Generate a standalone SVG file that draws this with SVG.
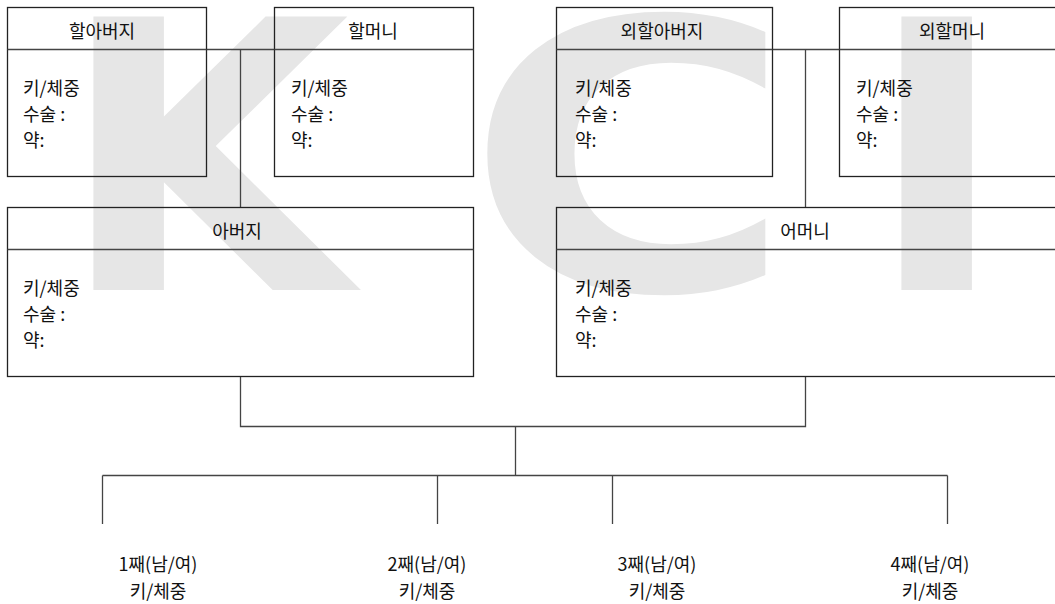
<svg xmlns="http://www.w3.org/2000/svg" width="1055" height="604" viewBox="0 0 1055 604">
<style>
.wm{font-family:"DejaVu Sans","Liberation Sans",sans-serif;font-weight:bold;font-size:375px;fill:#e6e6e6}
.box{fill:none;stroke:#222;stroke-width:1.3}
.div{stroke:#444;stroke-width:1.3}
.con{fill:none;stroke:#444;stroke-width:1.3}
.t{font-family:"Noto Sans CJK KR","Noto Sans",sans-serif;font-size:18px;fill:#111}
.h{text-anchor:middle}
.c{text-anchor:middle}
</style>
<rect width="1055" height="604" fill="#fff"/>
<g id="watermark">
<text class="wm" x="59" y="290">K</text>
<text class="wm" x="465" y="290" textLength="329" lengthAdjust="spacingAndGlyphs">C</text>
<text class="wm" x="867" y="290">I</text>
</g>
<g id="connectors">
<line class="div" x1="206.5" y1="49.5" x2="274.5" y2="49.5"/>
<line class="div" x1="772.5" y1="49.5" x2="839.5" y2="49.5"/>
<line class="con" x1="240.5" y1="49.5" x2="240.5" y2="207.5"/>
<line class="con" x1="805.5" y1="49.5" x2="805.5" y2="207.5"/>
<polyline class="con" points="240.5,376.5 240.5,426.5 805.5,426.5 805.5,376.5"/>
<line class="con" x1="515.5" y1="426.5" x2="515.5" y2="475.5"/>
<line class="con" x1="102.5" y1="475.5" x2="947.5" y2="475.5"/>
<line class="con" x1="102.5" y1="475.5" x2="102.5" y2="524"/>
<line class="con" x1="437.5" y1="475.5" x2="437.5" y2="524"/>
<line class="con" x1="612.5" y1="475.5" x2="612.5" y2="524"/>
<line class="con" x1="947.5" y1="475.5" x2="947.5" y2="524"/>
</g>
<g id="grandfather">
<rect class="box" x="7.5" y="7.5" width="199" height="169"/>
<line class="div" x1="7.5" y1="49.5" x2="206.5" y2="49.5"/>
<text class="t h" x="102" y="38">할아버지</text>
<text class="t" x="23" y="95">키/체중</text>
<text class="t" x="23" y="121">수술 :</text>
<text class="t" x="23" y="147">약:</text>
</g>
<g id="grandmother">
<rect class="box" x="274.5" y="7.5" width="199" height="169"/>
<line class="div" x1="274.5" y1="49.5" x2="473.5" y2="49.5"/>
<text class="t h" x="373" y="38">할머니</text>
<text class="t" x="291" y="95">키/체중</text>
<text class="t" x="291" y="121">수술 :</text>
<text class="t" x="291" y="147">약:</text>
</g>
<g id="maternal-grandfather">
<rect class="box" x="556.5" y="7.5" width="216" height="169"/>
<line class="div" x1="556.5" y1="49.5" x2="772.5" y2="49.5"/>
<text class="t h" x="662" y="38">외할아버지</text>
<text class="t" x="575" y="95">키/체중</text>
<text class="t" x="575" y="121">수술 :</text>
<text class="t" x="575" y="147">약:</text>
</g>
<g id="maternal-grandmother">
<rect class="box" x="839.5" y="7.5" width="230" height="169"/>
<line class="div" x1="839.5" y1="49.5" x2="1069.5" y2="49.5"/>
<text class="t h" x="952" y="38">외할머니</text>
<text class="t" x="856" y="95">키/체중</text>
<text class="t" x="856" y="121">수술 :</text>
<text class="t" x="856" y="147">약:</text>
</g>
<g id="father">
<rect class="box" x="7.5" y="207.5" width="466" height="169"/>
<line class="div" x1="7.5" y1="249.5" x2="473.5" y2="249.5"/>
<text class="t h" x="237" y="238">아버지</text>
<text class="t" x="23" y="295">키/체중</text>
<text class="t" x="23" y="321">수술 :</text>
<text class="t" x="23" y="347">약:</text>
</g>
<g id="mother">
<rect class="box" x="556.5" y="207.5" width="510" height="169"/>
<line class="div" x1="556.5" y1="249.5" x2="1066.5" y2="249.5"/>
<text class="t h" x="805" y="238">어머니</text>
<text class="t" x="575" y="295">키/체중</text>
<text class="t" x="575" y="321">수술 :</text>
<text class="t" x="575" y="347">약:</text>
</g>
<g id="child1">
<text class="t c" x="158" y="571">1째(남/여)</text>
<text class="t c" x="158" y="598">키/체중</text>
</g>
<g id="child2">
<text class="t c" x="427" y="571">2째(남/여)</text>
<text class="t c" x="427" y="598">키/체중</text>
</g>
<g id="child3">
<text class="t c" x="657" y="571">3째(남/여)</text>
<text class="t c" x="657" y="598">키/체중</text>
</g>
<g id="child4">
<text class="t c" x="930" y="571">4째(남/여)</text>
<text class="t c" x="930" y="598">키/체중</text>
</g>
</svg>
